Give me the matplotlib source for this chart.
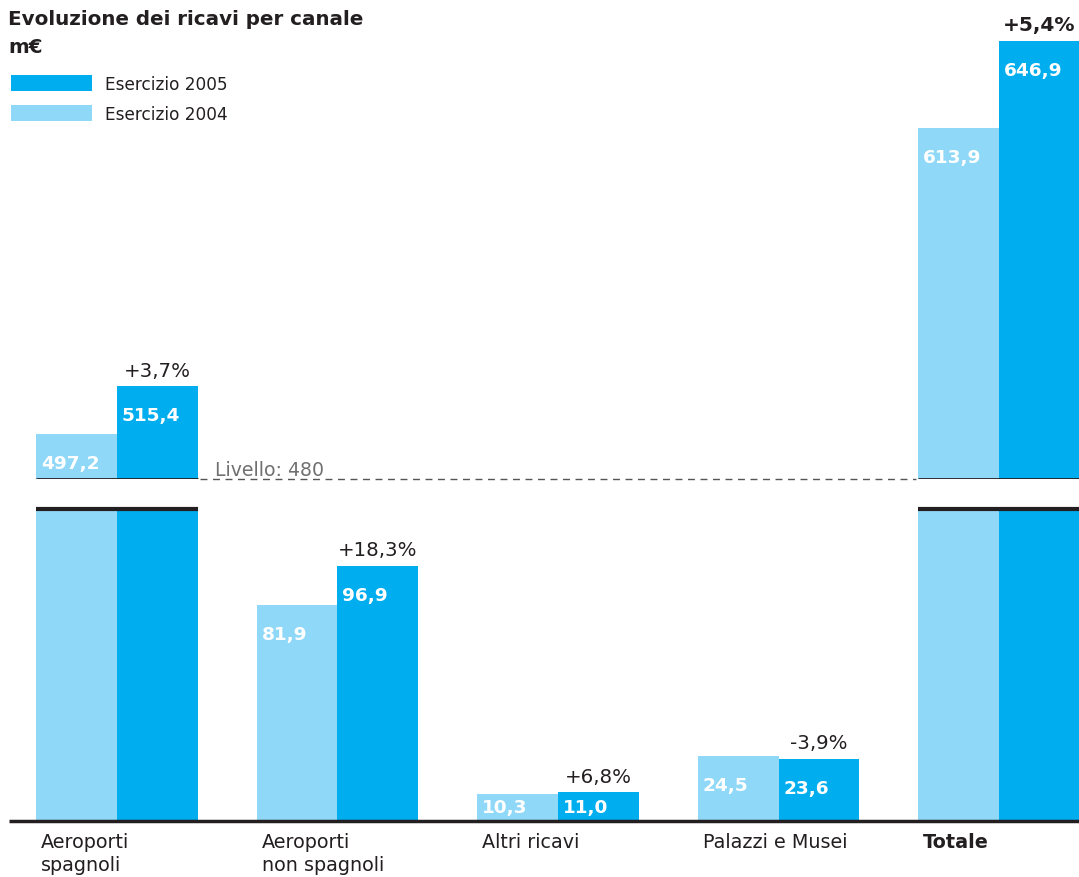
import matplotlib
matplotlib.use("Agg")
import matplotlib.pyplot as plt
from matplotlib.patches import Rectangle

# Revenue by channel, million euro
categories = ["Aeroporti\nspagnoli", "Aeroporti\nnon spagnoli", "Altri ricavi",
              "Palazzi e Musei", "Totale"]
ricavi_2004 = [497.2, 81.9, 10.3, 24.5, 613.9]
ricavi_2005 = [515.4, 96.9, 11.0, 23.6, 646.9]
variazioni = ["+3,7%", "+18,3%", "+6,8%", "-3,9%", "+5,4%"]
livello = 480

DARK = "#00ADEE"
LIGHT = "#8FD8F7"
INK = "#231F20"
GREY = "#707070"

plt.rcParams["font.family"] = ["DejaVu Sans"]

W, H = 1079, 878
fig = plt.figure(figsize=(W / 100, H / 100), dpi=100)
PT = 0.72  # points per pixel at 100 dpi


def frac(x0, y0, x1, y1):
    return [x0 / W, 1 - y1 / H, (x1 - x0) / W, (y1 - y0) / H]


ax_top = fig.add_axes(frac(0, 0, W, 480))
ax_bot = fig.add_axes(frac(0, 510, W, 822))

bot_max = 118.5
ax_top.set_ylim(livello, 662.9)
ax_bot.set_ylim(0, bot_max)
for ax in (ax_top, ax_bot):
    ax.set_xlim(-0.5306, 4.3628)
    ax.axis("off")

w = 0.367
x = list(range(len(categories)))
x04 = [i - w for i in x]
x05 = list(x)

for ax in (ax_top, ax_bot):
    ax.bar(x04, ricavi_2004, width=w, align="edge", color=LIGHT, zorder=2)
    ax.bar(x05, ricavi_2005, width=w, align="edge", color=DARK, zorder=2)

broken = [i for i in x if ricavi_2004[i] > bot_max]


def fmt(v):
    return f"{v:.1f}".replace(".", ",")


def value_label(ax, xl, v, ymax_in_ax):
    if v > ymax_in_ax:
        return
    # pixel height of the visible part of the bar
    y0 = ax.get_ylim()[0]
    ppu = ax.bbox.height / (ax.get_ylim()[1] - y0)
    hpx = (v - y0) * ppu
    if hpx >= 44:
        ax.annotate(fmt(v), (xl, v), xytext=(5 * PT, -34 * PT),
                    textcoords="offset points", ha="left", va="baseline",
                    color="white", fontsize=13.3, fontweight="bold", zorder=5)
    else:
        ax.annotate(fmt(v), (xl, (v + y0) / 2), xytext=(5 * PT, 0),
                    textcoords="offset points", ha="left", va="center",
                    color="white", fontsize=13.3, fontweight="bold", zorder=5)


for i in x:
    for ax, top in ((ax_top, ax_top.get_ylim()[1]), (ax_bot, bot_max)):
        lo = ax.get_ylim()[0]
        if ricavi_2004[i] > lo:
            value_label(ax, x04[i], ricavi_2004[i], top)
        if ricavi_2005[i] > lo:
            value_label(ax, x05[i], ricavi_2005[i], top)

    # percentage change above the 2005 bar
    ax = ax_top if ricavi_2005[i] > bot_max else ax_bot
    bold = categories[i] == "Totale"
    ax.annotate(variazioni[i], (x05[i] + w / 2, ricavi_2005[i]),
                xytext=(0, 10.5 * PT), textcoords="offset points",
                ha="center", va="baseline", color=INK,
                fontsize=14.5 if bold else 14.2,
                fontweight="bold" if bold else "normal")

    # category name below the baseline
    ax_bot.annotate(categories[i], (x04[i], 0), xytext=(5 * PT, -11 * PT),
                    textcoords="offset points", ha="left", va="top",
                    color=INK, fontsize=13.8, linespacing=1.3,
                    fontweight="bold" if bold else "normal",
                    annotation_clip=False)

# axis break markers
for i in broken:
    ax_top.hlines(livello, x04[i], x05[i] + w, color=INK, lw=2, zorder=4)
    ax_bot.hlines(bot_max, x04[i], x05[i] + w, color=INK, lw=3,
                  zorder=4, clip_on=False)

# reference level between the broken groups
ax_top.hlines(livello, x05[broken[0]] + w + 0.01, x04[broken[-1]] - 0.01,
              color="#555555", lw=1, linestyles=(0, (5, 4)), zorder=1,
              clip_on=False)
ax_top.annotate(f"Livello: {livello}", (x05[broken[0]] + w, livello),
                xytext=(17 * PT, 4 * PT), textcoords="offset points",
                ha="left", va="baseline", color=GREY, fontsize=13.6)

# baseline
ax_bot.hlines(0, -0.49, 4.3628, color=INK, lw=2.5, zorder=4, clip_on=False)

# title
fig.text(8 / W, 1 - 25 / H, "Evoluzione dei ricavi per canale", ha="left",
         va="baseline", fontsize=14.3, fontweight="heavy", color=INK)
fig.text(8 / W, 1 - 53 / H, "m€", ha="left", va="baseline", fontsize=14.3,
         fontweight="heavy", color=INK)

# legend
for (yt, col, lab) in ((76, DARK, "Esercizio 2005"), (106, LIGHT, "Esercizio 2004")):
    fig.add_artist(Rectangle((11 / W, 1 - (yt + 16) / H), 81 / W, 16 / H,
                             transform=fig.transFigure, color=col, lw=0))
    fig.text(105 / W, 1 - (yt + 14) / H, lab, ha="left", va="baseline",
             fontsize=12.2, color=INK)

fig.savefig("out.png", dpi=100)
